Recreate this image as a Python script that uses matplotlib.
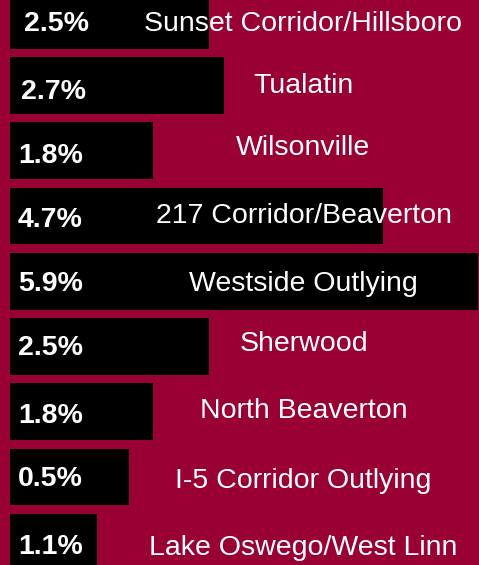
import numpy as np
import matplotlib.pyplot as plt

plt.rcParams['font.family'] = ['Liberation Sans', 'DejaVu Sans']

# areas, top to bottom
areas = ['Sunset Corridor/Hillsboro', 'Tualatin', 'Wilsonville',
         '217 Corridor/Beaverton', 'Westside Outlying', 'Sherwood',
         'North Beaverton', 'I-5 Corridor Outlying', 'Lake Oswego/West Linn']
# printed labels
pct_labels = ['2.5%', '2.7%', '1.8%', '4.7%', '5.9%', '2.5%', '1.8%', '0.5%', '1.1%']
# bar lengths as drawn (in %)
bar_len = [2.5, 2.7, 1.8, 4.7, 5.9, 2.5, 1.8, 1.5, 1.1]

bg = '#990033'
px_x = 79.4    # pixels per 1% on x
px_y = 65.25   # pixels per row

# text baselines in the original sit a bit unevenly (pixels below bar centre)
pct_base = [10.4, 13.5, 12.6, 11.3, 9.4, 8.5, 11.6, 9.0, 12.0]
name_base = [10.4, 7.8, 4.3, 7.3, 9.4, 4.2, 6.6, 11.3, 12.8]
pct_left = [14, 11, 8, 8, 8, 8, 8, 8, 8]   # pixels from bar start

fig = plt.figure(figsize=(4.79, 5.65), dpi=100, facecolor=bg)
ax = fig.add_axes([0, 0, 1, 1])
ax.set_facecolor(bg)

y = np.arange(len(areas))
ax.barh(y, bar_len, height=0.866, color='black', left=0)

for i in range(len(areas)):
    ax.text(pct_left[i] / px_x, y[i] + pct_base[i] / px_y, pct_labels[i],
            color='white', fontsize=20.5, fontweight='bold',
            ha='left', va='baseline')
    ax.text(293.5 / px_x, y[i] + name_base[i] / px_y, areas[i],
            color='white', fontsize=20.5, ha='center', va='baseline')

ax.set_xlim(-10 / px_x, 469 / px_x)
ax.set_ylim(544.75 / px_y, -20.25 / px_y)   # inverted, first row at top
ax.axis('off')

plt.savefig('out.png', dpi=100, facecolor=bg)
